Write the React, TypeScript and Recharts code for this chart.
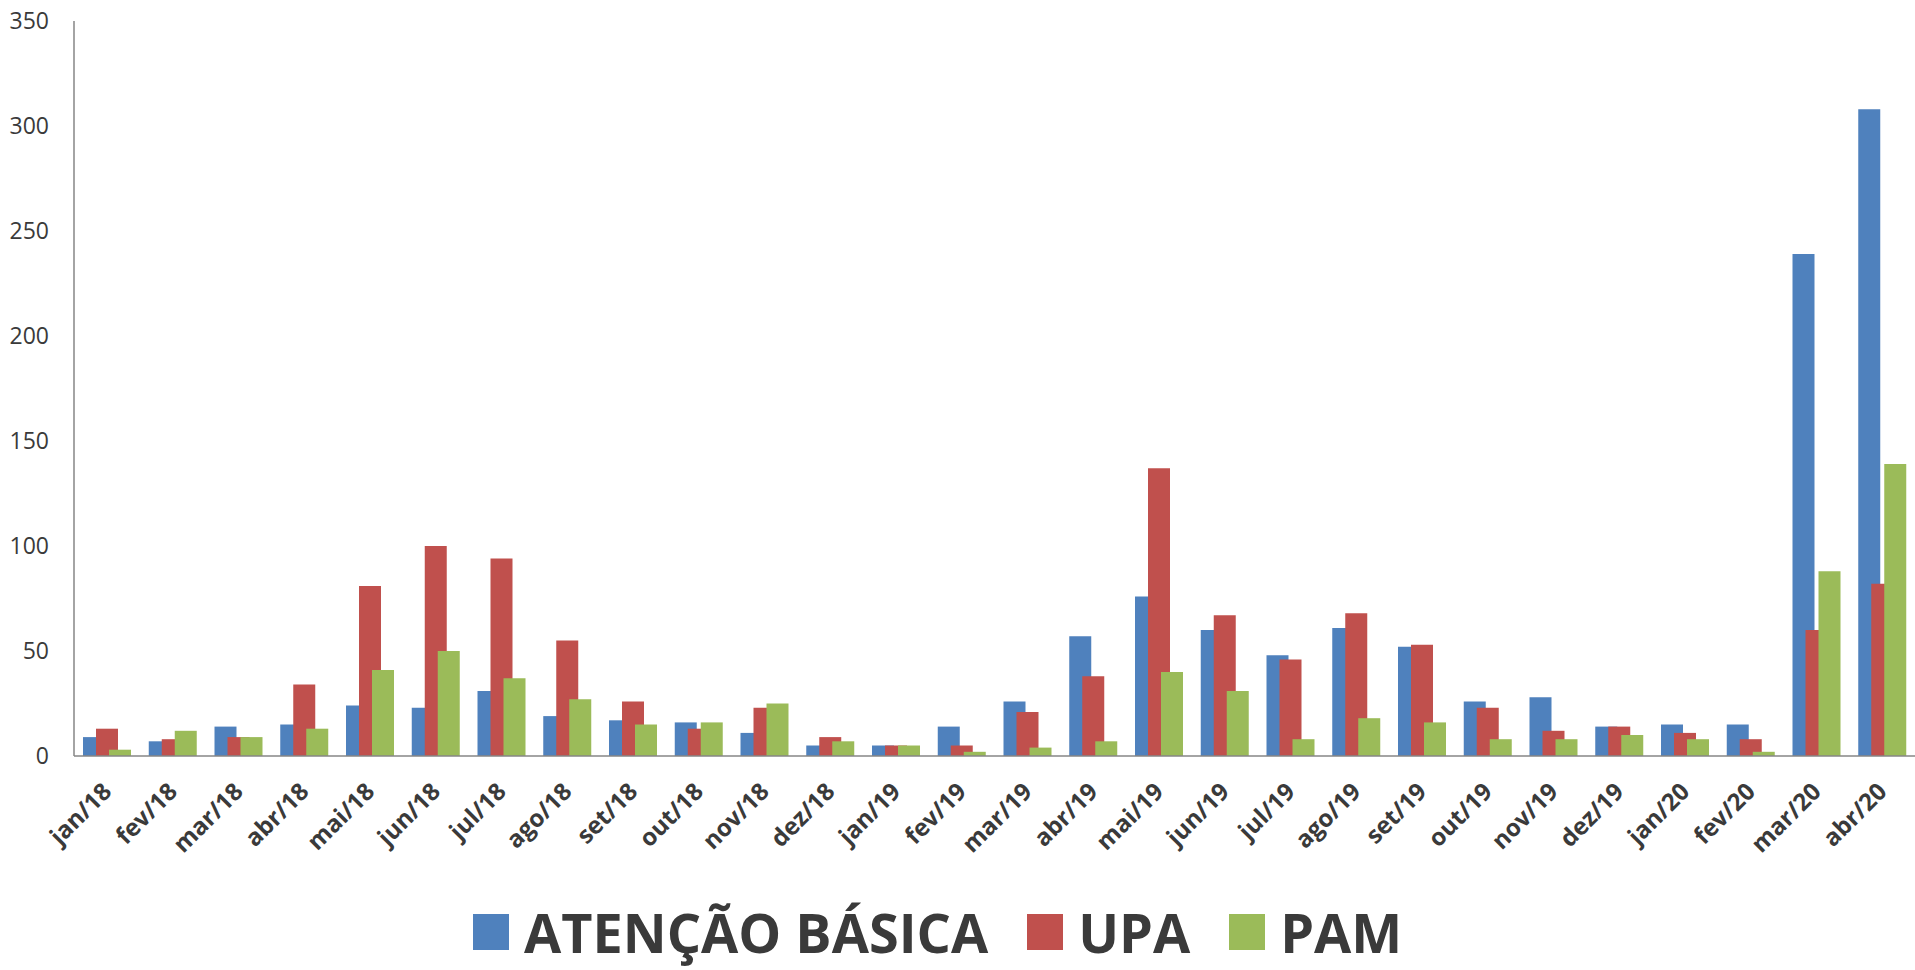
import React from "react";
import { BarChart, Bar, XAxis, YAxis, Legend } from "recharts";

const months = [
  "jan/18", "fev/18", "mar/18", "abr/18", "mai/18", "jun/18", "jul/18",
  "ago/18", "set/18", "out/18", "nov/18", "dez/18", "jan/19", "fev/19",
  "mar/19", "abr/19", "mai/19", "jun/19", "jul/19", "ago/19", "set/19",
  "out/19", "nov/19", "dez/19", "jan/20", "fev/20", "mar/20", "abr/20",
];

const atencaoBasica = [
  9, 7, 14, 15, 24, 23, 31, 19, 17, 16, 11, 5, 5, 14,
  26, 57, 76, 60, 48, 61, 52, 26, 28, 14, 15, 15, 239, 308,
];

const upa = [
  13, 8, 9, 34, 81, 100, 94, 55, 26, 13, 23, 9, 5, 5,
  21, 38, 137, 67, 46, 68, 53, 23, 12, 14, 11, 8, 60, 82,
];

const pam = [
  3, 12, 9, 13, 41, 50, 37, 27, 15, 16, 25, 7, 5, 2,
  4, 7, 40, 31, 8, 18, 16, 8, 8, 10, 8, 2, 88, 139,
];

const seriesNames = ["ATENÇÃO BÁSICA", "UPA", "PAM"];

const yTicks = [0, 50, 100, 150, 200, 250, 300, 350];

const TEXT = "#3a3a3a";
const AXIS = "#868686";
const FONT = "'Open Sans', sans-serif";

const data = months.map((m, i) => ({
  month: m,
  ab: atencaoBasica[i],
  upa: upa[i],
  pam: pam[i],
}));

// rotated month labels, baseline end sits just right of the category centre
const MonthTick = (props: any) => {
  const { x, y, payload } = props;
  return (
    <g transform={`translate(${x + 6},${y + 29})`}>
      <text
        x={0}
        y={0}
        textAnchor="end"
        transform="rotate(-45)"
        fill={TEXT}
        fontSize={24}
        fontWeight={700}
        fontFamily={FONT}
      >
        {payload.value}
      </text>
    </g>
  );
};

const LegendContent = (props: any) => {
  // keep series order, recharts sorts the payload by name
  const items = [...(props.payload || [])].sort(
    (a: any, b: any) => seriesNames.indexOf(a.value) - seriesNames.indexOf(b.value)
  );
  return (
    <div
      style={{
        height: 60,
        display: "flex",
        alignItems: "flex-start",
        paddingLeft: 473,
        fontFamily: FONT,
      }}
    >
      {items.map((it: any) => (
        <div
          key={it.value}
          style={{ display: "flex", alignItems: "center", height: 44, marginRight: 39 }}
        >
          <div
            style={{
              width: 36,
              height: 36,
              backgroundColor: it.color,
              marginRight: 15,
            }}
          />
          <span
            style={{
              display: "block",
              height: 44,
              fontSize: 54,
              fontWeight: 700,
              lineHeight: "44px",
              color: TEXT,
              whiteSpace: "nowrap",
            }}
          >
            {it.value}
          </span>
        </div>
      ))}
    </div>
  );
};

export default function App() {
  return (
    <div style={{ position: "absolute", left: 0, top: 0, background: "#fff" }}>
      <BarChart
        width={1915}
        height={970}
        data={data}
        margin={{ top: 21, right: 0, bottom: 0, left: 0 }}
        barSize={22}
        barGap={-9}
      >
        <XAxis
          dataKey="month"
          interval={0}
          height={154}
          tickLine={false}
          axisLine={{ stroke: AXIS, strokeWidth: 1.5 }}
          tick={<MonthTick />}
        />
        <YAxis
          domain={[0, 350]}
          ticks={yTicks}
          width={74}
          tickLine={false}
          tickMargin={19}
          axisLine={{ stroke: AXIS, strokeWidth: 1.5 }}
          tick={{ fill: TEXT, fontSize: 23, fontFamily: FONT }}
        />
        <Legend verticalAlign="bottom" content={<LegendContent />} />
        <Bar dataKey="ab" name={seriesNames[0]} fill="#4F81BD" isAnimationActive={false} />
        <Bar dataKey="upa" name={seriesNames[1]} fill="#C0504D" isAnimationActive={false} />
        <Bar dataKey="pam" name={seriesNames[2]} fill="#9BBB59" isAnimationActive={false} />
      </BarChart>
    </div>
  );
}
